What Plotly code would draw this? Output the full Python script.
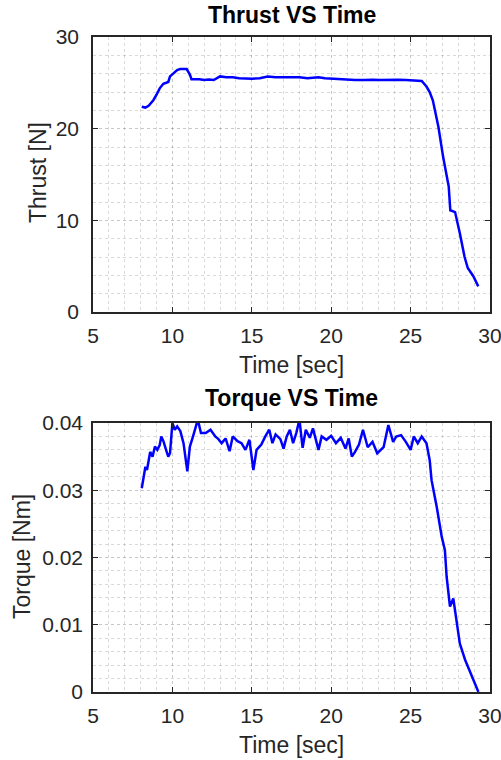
import plotly.graph_objects as go

# Thrust data
thrust_t = [8.07, 8.3, 8.5, 8.8, 9.0, 9.2, 9.43, 9.6, 9.74, 9.85, 10.0, 10.16, 10.3, 10.48, 10.7, 10.9,
            11.1, 11.2, 11.5, 11.7, 12.0, 12.3, 12.6, 13.0, 13.4, 13.8, 14.2, 14.6, 15.0, 15.5, 16.0,
            16.5, 17.0, 17.5, 18.0, 18.5, 19.2, 19.6, 20.0, 20.5, 21.0, 21.5, 22.1, 22.6, 23.1, 23.6,
            24.2, 24.7, 25.2, 25.7, 26.0, 26.2, 26.4, 26.75, 27.05, 27.4, 27.5, 27.8, 28.1, 28.4,
            28.6, 28.95, 29.26]
thrust_v = [22.4, 22.3, 22.5, 23.1, 23.7, 24.4, 24.9, 25.0, 25.1, 25.7, 25.9, 26.2, 26.4, 26.5, 26.5, 26.5,
            25.9, 25.4, 25.4, 25.4, 25.3, 25.35, 25.3, 25.7, 25.6, 25.6, 25.5, 25.45, 25.45, 25.5, 25.7,
            25.6, 25.6, 25.55, 25.6, 25.5, 25.6, 25.5, 25.45, 25.4, 25.35, 25.3, 25.3, 25.35, 25.3, 25.35,
            25.35, 25.3, 25.25, 25.2, 24.6, 24.0, 23.1, 20.2, 16.9, 13.7, 11.1, 10.9, 8.6, 6.0,
            4.8, 3.9, 2.8]

# Torque data
torque_t = [8.07, 8.2, 8.3, 8.4, 8.5, 8.6, 8.75, 8.9, 9.05, 9.2, 9.3, 9.45, 9.6, 9.74, 9.85, 10.0,
            10.15, 10.3, 10.5, 10.7, 10.94, 11.1, 11.3, 11.6, 11.8, 12.1, 12.4, 12.7, 12.9, 13.1,
            13.35, 13.6, 13.8, 14.1, 14.35, 14.6, 14.85, 15.1, 15.3, 15.6, 15.85, 16.1, 16.3, 16.5,
            16.8, 17.0, 17.2, 17.4, 17.6, 17.8, 18.0, 18.2, 18.4, 18.65, 18.85, 19.2, 19.4, 19.7,
            20.0, 20.3, 20.6, 20.9, 21.1, 21.3, 21.5, 21.75, 22.0, 22.3, 22.6, 22.9, 23.3, 23.6,
            23.9, 24.1, 24.4, 24.7, 25.0, 25.2, 25.45, 25.7, 26.0, 26.2, 26.32, 26.64, 26.96,
            27.16, 27.27, 27.48, 27.69, 27.9, 28.1, 28.43, 28.85, 29.27]
torque_v = [0.0303, 0.032, 0.0335, 0.033, 0.0345, 0.0357, 0.035, 0.0365, 0.036, 0.0367, 0.038, 0.0372, 0.036,
            0.035, 0.0355, 0.040, 0.039, 0.0395, 0.0388, 0.037, 0.0328, 0.0365, 0.038, 0.0405, 0.0385,
            0.0385, 0.039, 0.038, 0.0376, 0.037, 0.0377, 0.0358, 0.038, 0.0373, 0.037, 0.036, 0.0375,
            0.033, 0.036, 0.0368, 0.038, 0.039, 0.037, 0.0383, 0.0376, 0.0362, 0.038, 0.039, 0.037,
            0.0385, 0.0405, 0.0363, 0.039, 0.0378, 0.0392, 0.036, 0.038, 0.0375, 0.0381, 0.037,
            0.0378, 0.0362, 0.0377, 0.035, 0.0357, 0.0368, 0.039, 0.0364, 0.0372, 0.0355, 0.0364,
            0.0397, 0.0372, 0.038, 0.0382, 0.0372, 0.036, 0.038, 0.037, 0.038, 0.037, 0.0345,
            0.0315, 0.0276, 0.0231, 0.0211, 0.0171, 0.0127, 0.0139, 0.0107, 0.0072, 0.0048, 0.0023, 0.0]

titles = ["Thrust VS Time", "Torque VS Time"]
xlabel = "Time [sec]"
ylabels = ["Thrust [N]", "Torque [Nm]"]

W, H = 501, 760
FONT = "Liberation Sans, Arial, Helvetica, sans-serif"
TXT = "#262626"
LINE = "#0000ff"

def px(x):
    return x / W

def py(y):
    return 1 - y / H

fig = go.Figure()
fig.add_trace(go.Scatter(x=thrust_t, y=thrust_v, mode="lines", cliponaxis=False,
                         line=dict(color=LINE, width=2.5), xaxis="x", yaxis="y"))
fig.add_trace(go.Scatter(x=torque_t, y=torque_v, mode="lines", cliponaxis=False,
                         line=dict(color=LINE, width=2.5), xaxis="x2", yaxis="y2"))

grid = dict(showgrid=True, gridcolor="rgba(0,0,0,0.22)", griddash="dot", gridwidth=1,
            showline=True, linecolor="#262626", linewidth=1.5, mirror="ticks",
            ticks="inside", ticklen=5, tickcolor="#262626", zeroline=False, automargin=False,
            ticklabeloverflow="allow",
            tickfont=dict(family=FONT, size=21, color=TXT))
mg = dict(showgrid=True, gridcolor="rgba(0,0,0,0.15)", griddash="dot")

xdom = [px(93), px(490)]
fig.update_layout(
    width=W, height=H, margin=dict(l=0, r=0, t=0, b=0),
    paper_bgcolor="white", plot_bgcolor="white", showlegend=False,
    xaxis=dict(domain=xdom, range=[5, 30], dtick=5, anchor="y",
               minor=dict(dtick=1, **mg), ticklabelstandoff=4, **grid),
    yaxis=dict(domain=[py(312), py(37)], range=[0, 30], dtick=10, anchor="x",
               minor=dict(dtick=2, **mg), ticklabelstandoff=8, **grid),
    xaxis2=dict(domain=xdom, range=[5, 30], dtick=5, anchor="y2",
                minor=dict(dtick=1, **mg), ticklabelstandoff=4, **grid),
    yaxis2=dict(domain=[py(692), py(423)], range=[0, 0.04], dtick=0.01, anchor="x2",
                tickformat="~g", minor=dict(dtick=0.002, **mg), ticklabelstandoff=4, **grid),
)

ann = []
cx = px(291.5)
for title, ty in zip(titles, [15, 398]):
    ann.append(dict(text="<b>%s</b>" % title, x=cx, y=py(ty), xref="paper", yref="paper",
                    showarrow=False, xanchor="center", yanchor="middle",
                    font=dict(family=FONT, size=23, color="#000000")))
for ly in [365, 745]:
    ann.append(dict(text=xlabel, x=cx, y=py(ly), xref="paper", yref="paper",
                    showarrow=False, xanchor="center", yanchor="middle",
                    font=dict(family=FONT, size=23, color=TXT)))
for lab, lx, ly in zip(ylabels, [38, 22], [173, 557]):
    ann.append(dict(text=lab, x=px(lx), y=py(ly), xref="paper", yref="paper",
                    showarrow=False, xanchor="center", yanchor="middle", textangle=-90,
                    font=dict(family=FONT, size=23, color=TXT)))
fig.update_layout(annotations=ann)

fig.write_html("out.html", config={"displayModeBar": False},
               post_script="document.body.style.margin='0px';document.body.style.padding='0px';")
